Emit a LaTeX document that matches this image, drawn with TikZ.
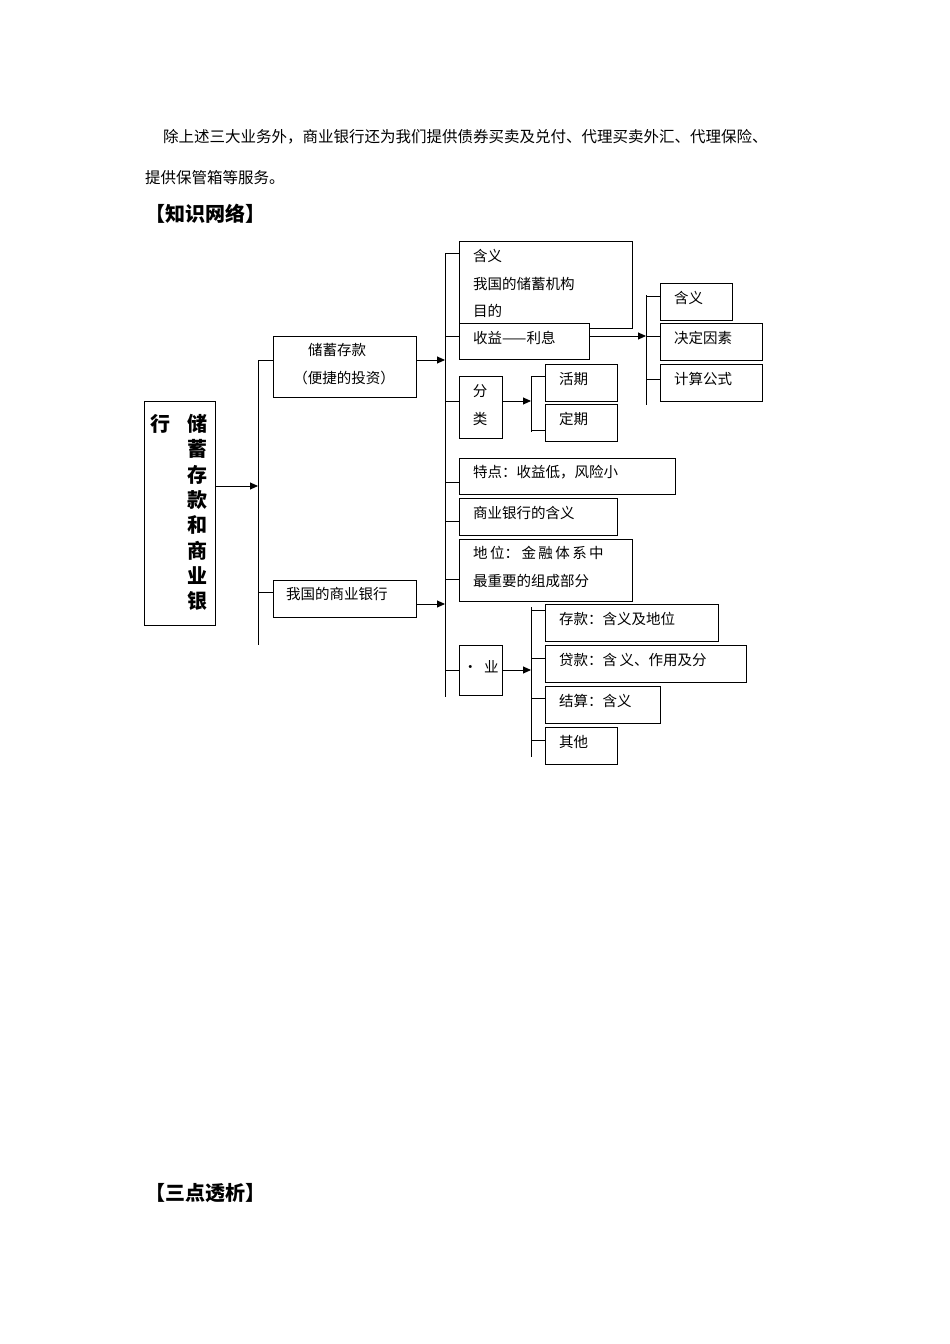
\documentclass[tikz,border=0pt]{standalone}
\usepackage{fontspec}
\setmainfont{Noto Sans CJK SC}
\usetikzlibrary{arrows.meta}
\begin{document}
\begin{tikzpicture}[x=1pt,y=-1pt,
  bx/.style={draw,line width=0.9pt,fill=white},
  tx/.style={anchor=west,inner sep=0,font=\fontsize{14.5}{16}\selectfont},
  ln/.style={line width=0.9pt},
  ar/.style={line width=0.9pt,-{Triangle[length=8pt,width=7pt]}}]
\useasboundingbox (0,0) rectangle (950,1344);
\node[tx,font=\fontsize{15.5}{17}\selectfont] (p1) at (163,137) {除上述三大业务外，商业银行还为我们提供债券买卖及兑付、代理买卖外汇、代理保险、};
\node[tx,font=\fontsize{15.5}{17}\selectfont] (p2) at (145,178) {提供保管箱等服务。};
\node[tx,font=\bfseries\fontsize{20}{22}\selectfont] (h1) at (145,214) {【知识网络】};
\node[tx,font=\bfseries\fontsize{20}{22}\selectfont] (h2) at (145,1193) {【三点透析】};
% main
\draw[bx] (144,401) rectangle (215,625);
\node[tx,font=\bfseries\fontsize{20}{22}\selectfont] (hang) at (150,424) {行};
\foreach \c [count=\i from 0] in {储,蓄,存,款,和,商,业,银}
  \node[inner sep=0,font=\bfseries\fontsize{20}{22}\selectfont] at (197,424+25.3*\i) {\c};
\coordinate (m) at (215,486);
\coordinate (v1) at (258,486);
\draw[ar] (m) -- (v1);
\draw[ln] (258,360) -- (258,645);
% level 2
\draw[bx] (273,336) rectangle (416,397);
\node[inner sep=0,font=\fontsize{14.5}{16}\selectfont] at (337,350) {储蓄存款};
\node[inner sep=0,font=\fontsize{14.5}{16}\selectfont] at (344,378) {（便捷的投资）};
\draw[ln] (258,360) -- (273,360);
\draw[ar] (416,360) -- (445,360);
\draw[bx] (273,580) rectangle (416,617);
\node[tx] at (286,594) {我国的商业银行};
\draw[ln] (258,592) -- (273,592);
\draw[ar] (416,604) -- (445,604);
\draw[ln] (445,253) -- (445,697);
% level 3
\draw[bx] (459,241) rectangle (632,328);
\node[tx] at (473,256) {含义};
\node[tx] at (473,284) {我国的储蓄机构};
\node[tx] at (473,311) {目的};
\draw[ln] (445,253) -- (459,253);
\draw[bx] (459,323) rectangle (589,359);
\node[tx] at (473,338) {收益——利息};
\draw[ln] (445,336) -- (459,336);
\draw[ar] (589,336) -- (646,336);
\draw[ln] (646,295) -- (646,405);
\foreach \y/\t/\w/\yy in {283/含义/732/296,323/决定因素/762/336,364/计算公式/762/379}{
  \draw[bx] (660,\y) rectangle (\w,\y+37);
  \node[tx] at (674,\y+15) {\t};
  \draw[ln] (646,\yy) -- (660,\yy);}
\draw[bx] (459,376) rectangle (502,438);
\node[inner sep=0,font=\fontsize{14.5}{16}\selectfont] at (480,391) {分};
\node[inner sep=0,font=\fontsize{14.5}{16}\selectfont] at (480,419) {类};
\draw[ln] (445,401) -- (459,401);
\draw[ar] (502,401) -- (531,401);
\draw[ln] (531,376) -- (531,432);
\draw[bx] (545,364) rectangle (617,401); \node[tx] at (559,379) {活期};
\draw[bx] (545,404) rectangle (617,441); \node[tx] at (559,419) {定期};
\draw[ln] (531,376) -- (545,376); \draw[ln] (531,430) -- (545,430);
\draw[bx] (459,458) rectangle (675,494); \node[tx] at (473,472) {特点：收益低，风险小};
\draw[ln] (445,482) -- (459,482);
\draw[bx] (459,498) rectangle (617,535); \node[tx] at (473,513) {商业银行的含义};
\draw[ln] (445,521) -- (459,521);
\draw[bx] (459,539) rectangle (632,601);
\node[tx] at (473,553) {地\,位：\,金\,融\,体\,系\,中};
\node[tx] at (473,581) {最重要的组成部分};
\draw[ln] (445,579) -- (459,579);
\draw[bx] (459,645) rectangle (502,695);
\node[tx] at (463,667) {·\ \ 业};
\draw[ln] (445,670) -- (459,670);
\draw[ar] (502,670) -- (531,670);
\draw[ln] (531,607) -- (531,757);
\foreach \y/\t/\w/\yy in {604/存款：含义及地位/718/610,645/贷款：含\,义、作用及分/746/658,686/结算：含义/660/698,727/其他/617/740}{
  \draw[bx] (545,\y) rectangle (\w,\y+37);
  \node[tx] at (559,\y+15) {\t};
  \draw[ln] (531,\yy) -- (545,\yy);}
\end{tikzpicture}
\end{document}
